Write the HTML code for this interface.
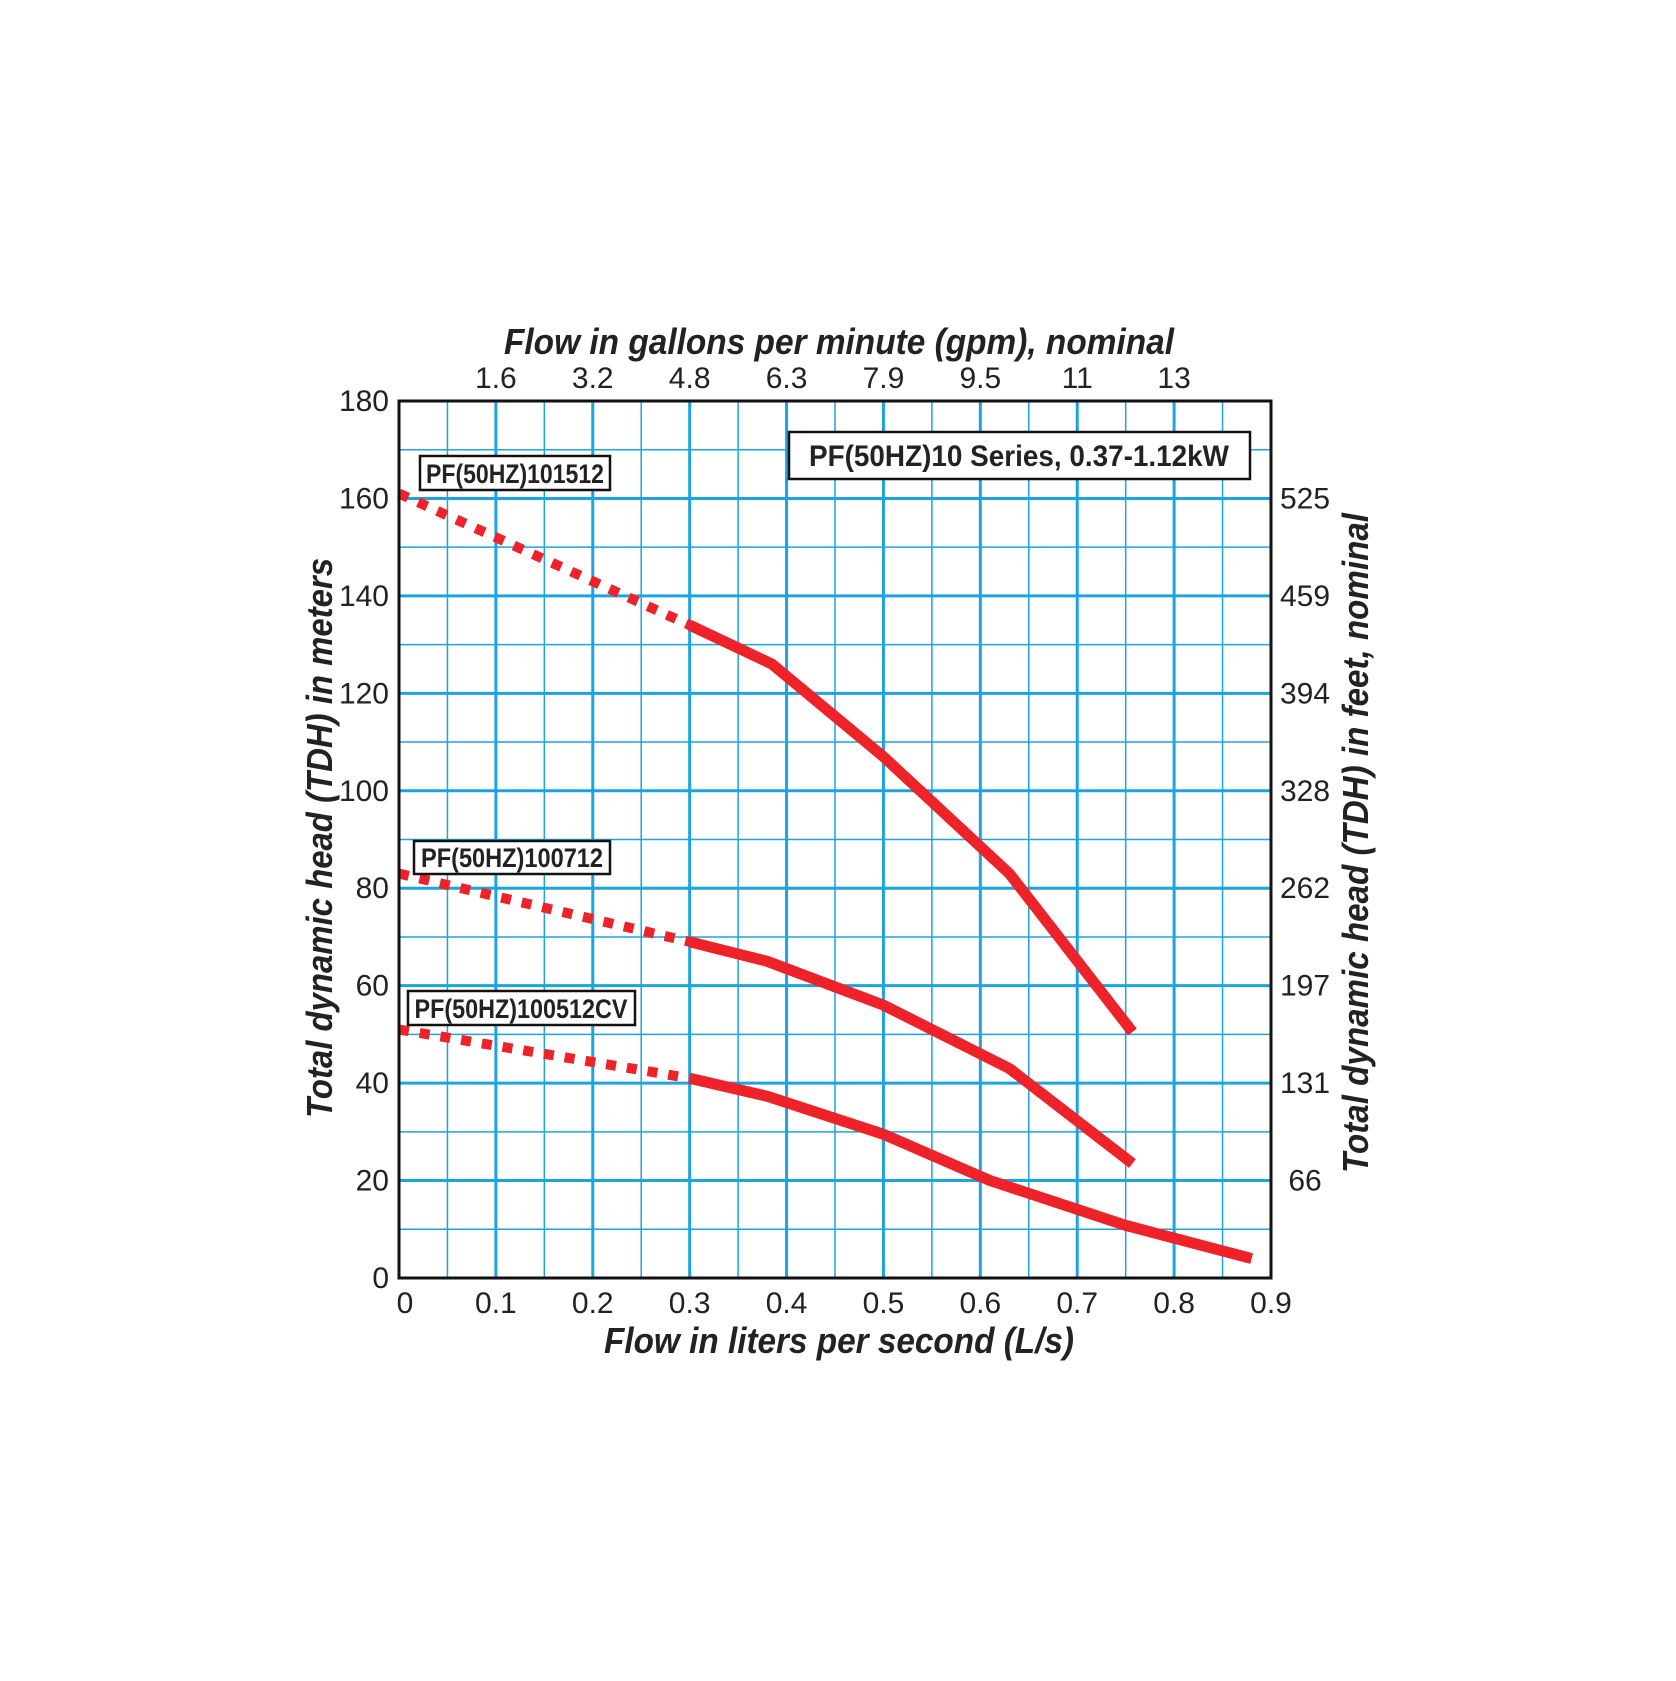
<!DOCTYPE html>
<html><head><meta charset="utf-8"><style>
html,body{margin:0;padding:0;background:#fff}
svg text{font-family:"Liberation Sans Narrow","Liberation Sans",sans-serif;fill:#222}
</style></head><body>
<svg id="chart" width="1676" height="1676" viewBox="0 0 1676 1676" xmlns="http://www.w3.org/2000/svg">
<g id="grid"></g>
<g id="curves"></g>
<g id="ticks"></g>
<rect x="399" y="401" width="872" height="877" fill="none" stroke="#111" stroke-width="3"/>
<g>
<rect x="789" y="432" width="461" height="47" fill="#fff" stroke="#111" stroke-width="2.5"/>
<text x="1019" y="466" text-anchor="middle" font-size="30" font-weight="bold" textLength="420" lengthAdjust="spacingAndGlyphs">PF(50HZ)10 Series, 0.37-1.12kW</text>
</g>
<g>
<rect x="420" y="456" width="190" height="34" fill="#fff" stroke="#111" stroke-width="2.5"/>
<text x="515" y="483" text-anchor="middle" font-size="27" font-weight="bold" textLength="178" lengthAdjust="spacingAndGlyphs">PF(50HZ)101512</text>
</g>
<g>
<rect x="414" y="841" width="196" height="33" fill="#fff" stroke="#111" stroke-width="2.5"/>
<text x="512" y="867" text-anchor="middle" font-size="27" font-weight="bold" textLength="182" lengthAdjust="spacingAndGlyphs">PF(50HZ)100712</text>
</g>
<g>
<rect x="408" y="991" width="227" height="34" fill="#fff" stroke="#111" stroke-width="2.5"/>
<text x="521" y="1018" text-anchor="middle" font-size="27" font-weight="bold" textLength="213" lengthAdjust="spacingAndGlyphs">PF(50HZ)100512CV</text>
</g>
<text x="839" y="354" text-anchor="middle" font-size="36" font-weight="bold" font-style="italic" textLength="670" lengthAdjust="spacingAndGlyphs">Flow in  gallons per minute (gpm), nominal</text>
<text x="839" y="1353" text-anchor="middle" font-size="36" font-weight="bold" font-style="italic" textLength="470" lengthAdjust="spacingAndGlyphs">Flow in liters per second (L/s)</text>
<text transform="translate(332,838) rotate(-90)" text-anchor="middle" font-size="36" font-weight="bold" font-style="italic" textLength="560" lengthAdjust="spacingAndGlyphs">Total dynamic head (TDH) in meters</text>
<text transform="translate(1368,843) rotate(-90)" text-anchor="middle" font-size="36" font-weight="bold" font-style="italic" textLength="660" lengthAdjust="spacingAndGlyphs">Total dynamic head (TDH) in feet, nominal</text>
</svg>
<script>
const xTicks=[0,0.1,0.2,0.3,0.4,0.5,0.6,0.7,0.8,0.9];
const xTickLabels=["0","0.1","0.2","0.3","0.4","0.5","0.6","0.7","0.8","0.9"];
const yTicks=[0,20,40,60,80,100,120,140,160,180];
const gpmTicks=[0.1,0.2,0.3,0.4,0.5,0.6,0.7,0.8];
const gpmLabels=["1.6","3.2","4.8","6.3","7.9","9.5","11","13"];
const ftTicks=[20,40,60,80,100,120,140,160];
const ftLabels=["66","131","197","262","328","394","459","525"];
const s1Dot=[[0,161],[0.3,134]];
const s1=[[0.3,134],[0.385,126],[0.5,107],[0.63,83],[0.757,50.5]];
const s2Dot=[[0,83],[0.3,69]];
const s2=[[0.3,69],[0.38,65],[0.5,56],[0.63,43],[0.757,23.5]];
const s3Dot=[[0,51],[0.3,41]];
const s3=[[0.3,41],[0.38,37.3],[0.5,29.5],[0.61,20],[0.75,10.8],[0.88,4]];
const X0=399,X1=1271,Y0=1278,Y1=401;
const xs=v=>X0+(X1-X0)*v/0.9;
const ys=v=>Y0-(Y0-Y1)*v/180;
const NS="http://www.w3.org/2000/svg";
function mk(tag,attrs,parent){const e=document.createElementNS(NS,tag);for(const k in attrs)e.setAttribute(k,attrs[k]);parent.appendChild(e);return e;}
const grid=document.getElementById('grid'),curves=document.getElementById('curves'),ticks=document.getElementById('ticks');
for(let i=0;i<=18;i++){const v=i*0.05;const l=mk('line',{x1:xs(v),x2:xs(v),y1:Y1,y2:Y0,stroke:'#1ba3e2','stroke-width':i%2?1.5:3},grid);

}
for(let i=0;i<=18;i++){const v=i*10;const l=mk('line',{x1:X0,x2:X1,y1:ys(v),y2:ys(v),stroke:'#1ba3e2','stroke-width':i%2?1.5:3},grid);

}
xTicks.forEach((v,i)=>{const t=mk('text',{x:xs(v)+(i==0?6:0),y:1313,'text-anchor':'middle','font-size':30},ticks);t.textContent=xTickLabels[i];

});
yTicks.forEach(v=>{const t=mk('text',{x:389,y:ys(v)+10,'text-anchor':'end','font-size':30},ticks);t.textContent=String(v);

});
gpmTicks.forEach((v,i)=>{const t=mk('text',{x:xs(v),y:388,'text-anchor':'middle','font-size':30},ticks);t.textContent=gpmLabels[i];

});
ftTicks.forEach((v,i)=>{const t=mk('text',{x:1305,y:ys(v)+10,'text-anchor':'middle','font-size':30},ticks);t.textContent=ftLabels[i];

});
const pts=a=>a.map(p=>xs(p[0])+','+ys(p[1])).join(' ');
[[s1Dot,s1,'head-101512'],[s2Dot,s2,'head-100712'],[s3Dot,s3,'head-100512cv']].forEach(([d,s,n])=>{
const a=mk('polyline',{points:pts(d),fill:'none',stroke:'#ee2229','stroke-width':10,'stroke-dasharray':'10 11'},curves);


const b=mk('polyline',{points:pts(s),fill:'none',stroke:'#ee2229','stroke-width':11,'stroke-linejoin':'round'},curves);


});
</script>
</body></html>
